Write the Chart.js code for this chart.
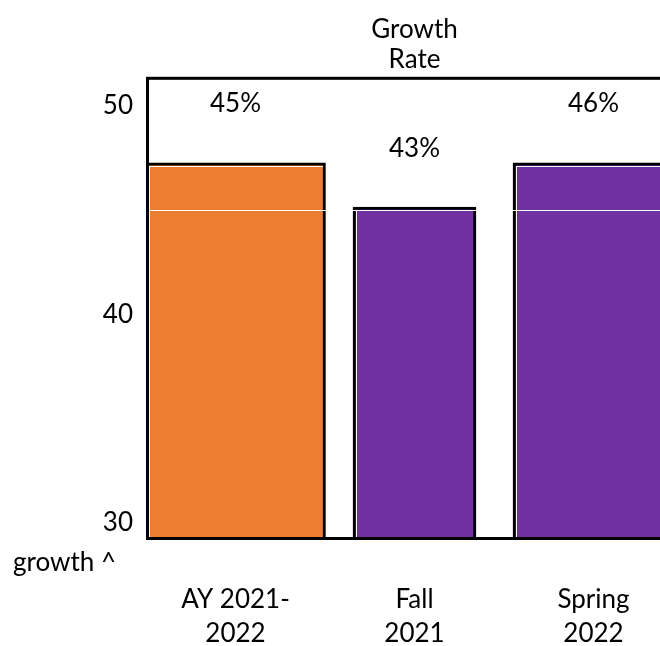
<!DOCTYPE html>
<html><head><meta charset="utf-8">
<style>html,body{margin:0;padding:0;overflow:hidden;background:#fff;}</style>
<script src="https://cdn.jsdelivr.net/npm/chart.js@4"></script>
</head><body>
<canvas id="c" width="690" height="660"></canvas>
<script>
// ---- data ----
const categories = [['AY 2021-', '2022'], ['Fall', '2021'], ['Spring', '2022']];
const barValues = [47.27, 45.14, 47.27];
const dataLabels = ['45%', '43%', '46%'];
const barColors = ['#ED7D31', '#7030A0', '#7030A0'];
const yTickValues = [30, 40, 50];
const markerValue = 45;
const titleLines = ['Growth', 'Rate'];
const cornerNote = 'growth ^';

// ---- styling ----
const FONT = 'Lato';
const barWidths = [180, 123, 161];

const datasets = barValues.map((v, i) => ({
  label: categories[i].join(' '),
  data: categories.map((_, j) => (j === i ? v : null)),
  backgroundColor: barColors[i],
  borderColor: '#000',
  borderWidth: 3,
  borderSkipped: false,
  barThickness: barWidths[i]
}));

const framePlugin = {
  id: 'frame',
  afterDatasetsDraw(chart) {
    const ctx = chart.ctx;
    ctx.save();
    ctx.strokeStyle = '#fff';
    ctx.lineWidth = 1;
    chart.data.datasets.forEach((ds, di) => {
      chart.getDatasetMeta(di).data.forEach((el, idx) => {
        if (ds.data[idx] == null) return;
        const p = el.getProps(['x', 'y', 'base', 'width'], true);
        const l = p.x - p.width / 2, r = p.x + p.width / 2;
        const t = Math.round(p.y) + 3.5;
        ctx.beginPath();
        ctx.moveTo(Math.round(l) + 3, t);
        ctx.lineTo(Math.round(r) - 3, t);
        ctx.moveTo(Math.round(l) + 3.5, t);
        ctx.lineTo(Math.round(l) + 3.5, p.base - 3);
        ctx.stroke();
      });
    });
    ctx.restore();
  },
  afterDraw(chart) {
    const ctx = chart.ctx;
    const a = chart.chartArea;
    ctx.save();
    ctx.strokeStyle = '#000';
    ctx.lineWidth = 3;
    ctx.strokeRect(a.left + 1.5, a.top + 1.5, a.right - a.left - 3, a.bottom - a.top - 3);
    // data labels
    ctx.fillStyle = '#000';
    ctx.font = '26px ' + FONT;
    ctx.textAlign = 'center';
    ctx.textBaseline = 'middle';
    chart.data.datasets.forEach((ds, di) => {
      chart.getDatasetMeta(di).data.forEach((el, idx) => {
        if (ds.data[idx] == null) return;
        ctx.fillText(dataLabels[idx], el.x, el.y - 59);
      });
    });
    // corner note
    ctx.textAlign = 'left';
    ctx.fillText(cornerNote, 13, a.bottom + 23);
    ctx.restore();
  }
};

new Chart(document.getElementById('c'), {
  type: 'bar',
  data: { labels: categories, datasets },
  options: {
    responsive: false,
    animation: false,
    devicePixelRatio: 1,
    layout: { padding: { top: 3, bottom: 9, left: 0, right: 7 } },
    datasets: { bar: { grouped: false, skipNull: true } },
    plugins: {
      legend: { display: false },
      tooltip: { enabled: false },
      title: {
        display: true,
        text: titleLines,
        fullSize: false,
        color: '#000',
        font: { family: FONT, size: 26, weight: 'normal', lineHeight: 1.15 },
        padding: { top: 12, bottom: 2 }
      }
    },
    scales: {
      x: {
        afterFit(scale) { scale.height = 111; },
        grid: { display: false, drawTicks: false },
        border: { display: false },
        ticks: {
          color: '#000',
          padding: 43,
          maxRotation: 0,
          autoSkip: false,
          font: { family: FONT, size: 26, lineHeight: 34 / 26 }
        }
      },
      y: {
        min: 29.185,
        max: 51.391,
        afterBuildTicks(scale) {
          scale.ticks = [...yTickValues, markerValue].sort((a, b) => a - b).map(v => ({ value: v }));
        },
        afterFit(scale) { scale.width = 146; },
        grid: {
          z: 1,
          drawTicks: false,
          lineWidth: 1,
          color: (c) => (c.tick && c.tick.value === markerValue ? '#ffffff' : 'rgba(0,0,0,0)')
        },
        border: { display: false },
        ticks: {
          color: '#000',
          padding: 13,
          font: { family: FONT, size: 26 },
          callback: (v) => (yTickValues.includes(v) ? String(v) : '')
        }
      }
    }
  },
  plugins: [framePlugin]
});
</script>
</body></html>
